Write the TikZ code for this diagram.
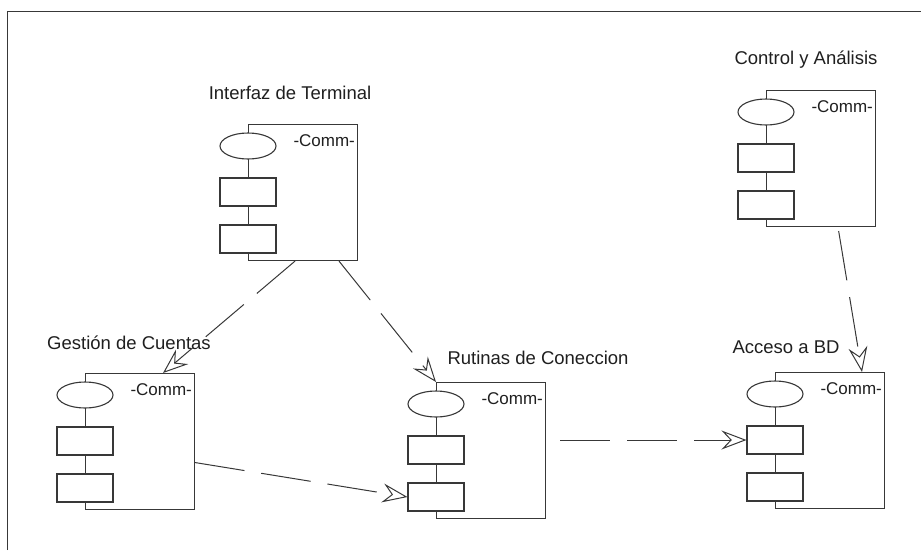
\documentclass[tikz,border=0pt]{standalone}
\usepackage{fontspec}
\setmainfont{Liberation Sans}
\usetikzlibrary{arrows.meta}
\usetikzlibrary{shapes.geometric}
\colorlet{trazo}{black!78}
\tikzset{
  componente/.style={draw=trazo, line width=1.1pt, minimum width=109pt, minimum height=136pt, inner sep=0pt, anchor=north west},
  puerto/.style={ellipse, draw=trazo, fill=white, line width=1.1pt, minimum width=56pt, minimum height=26pt, inner sep=0pt},
  bloque/.style={rectangle, draw=trazo, fill=white, line width=1.1pt, minimum width=56pt, minimum height=28pt, inner sep=0pt},
  etiqueta/.style={font=\fontsize{18.5}{22}\selectfont, text=black!88, inner sep=0pt},
  comm/.style={font=\fontsize{17}{20}\selectfont, text=black!88, inner sep=0pt, anchor=east},
  dep/.style={draw=trazo, line width=1pt, dash pattern=on 50pt off 17pt, -{Stealth[open, length=25pt, width=19pt, inset=9pt]}}
}
\newcommand{\componente}[2]{%
  \node[componente] (#1) at (#2) {};
  \node[puerto] (#1-e) at ([yshift=-22pt]#1.north west) {};
  \node[bloque] (#1-r1) at ([yshift=-68pt]#1.north west) {};
  \node[bloque] (#1-r2) at ([yshift=-115pt]#1.north west) {};
  \node[comm] (#1-c) at ([xshift=-3pt,yshift=-17pt]#1.north east) {-Comm-};
}

\begin{document}
\begin{tikzpicture}[x=1pt, y=-1pt]
	\useasboundingbox (0,0) rectangle (921,550);
	\draw[trazo, line width=0.9pt] (7,550) -- (7,11) -- (921,11);
	
	% componentes
	\componente{terminal}{248,124}
	\componente{cuentas}{85,373}
	\componente{rutinas}{436,382}
	\componente{control}{766,90}
	\componente{acceso}{775,372}
	
	\node[etiqueta] (terminal-t) at (290,93) {Interfaz de Terminal};
	\node[etiqueta] (cuentas-t) at (129,343) {Gestión de Cuentas};
	\node[etiqueta] (rutinas-t) at (538,358) {Rutinas de Coneccion};
	\node[etiqueta] (control-t) at (806,60) {Control y Análisis};
	\node[etiqueta] (acceso-t) at (786,347) {Acceso a BD};
	
	% dependencias
	\draw[dep] ([xshift=47pt]terminal.south west) -- ([xshift=78pt]cuentas.north west);
	\draw[dep] ([xshift=91pt]terminal.south west) -- (rutinas.north west);
	\draw[dep] ([yshift=-21pt]cuentas.east) -- (rutinas-r2.west);
	\draw[dep, shorten <=14pt] (rutinas.east |- acceso-r1.west) -- (acceso-r1.west);
	\draw[dep, shorten <=4pt] ([xshift=72pt]control.south west) -- ([xshift=87pt]acceso.north west);
\end{tikzpicture}
\end{document}
